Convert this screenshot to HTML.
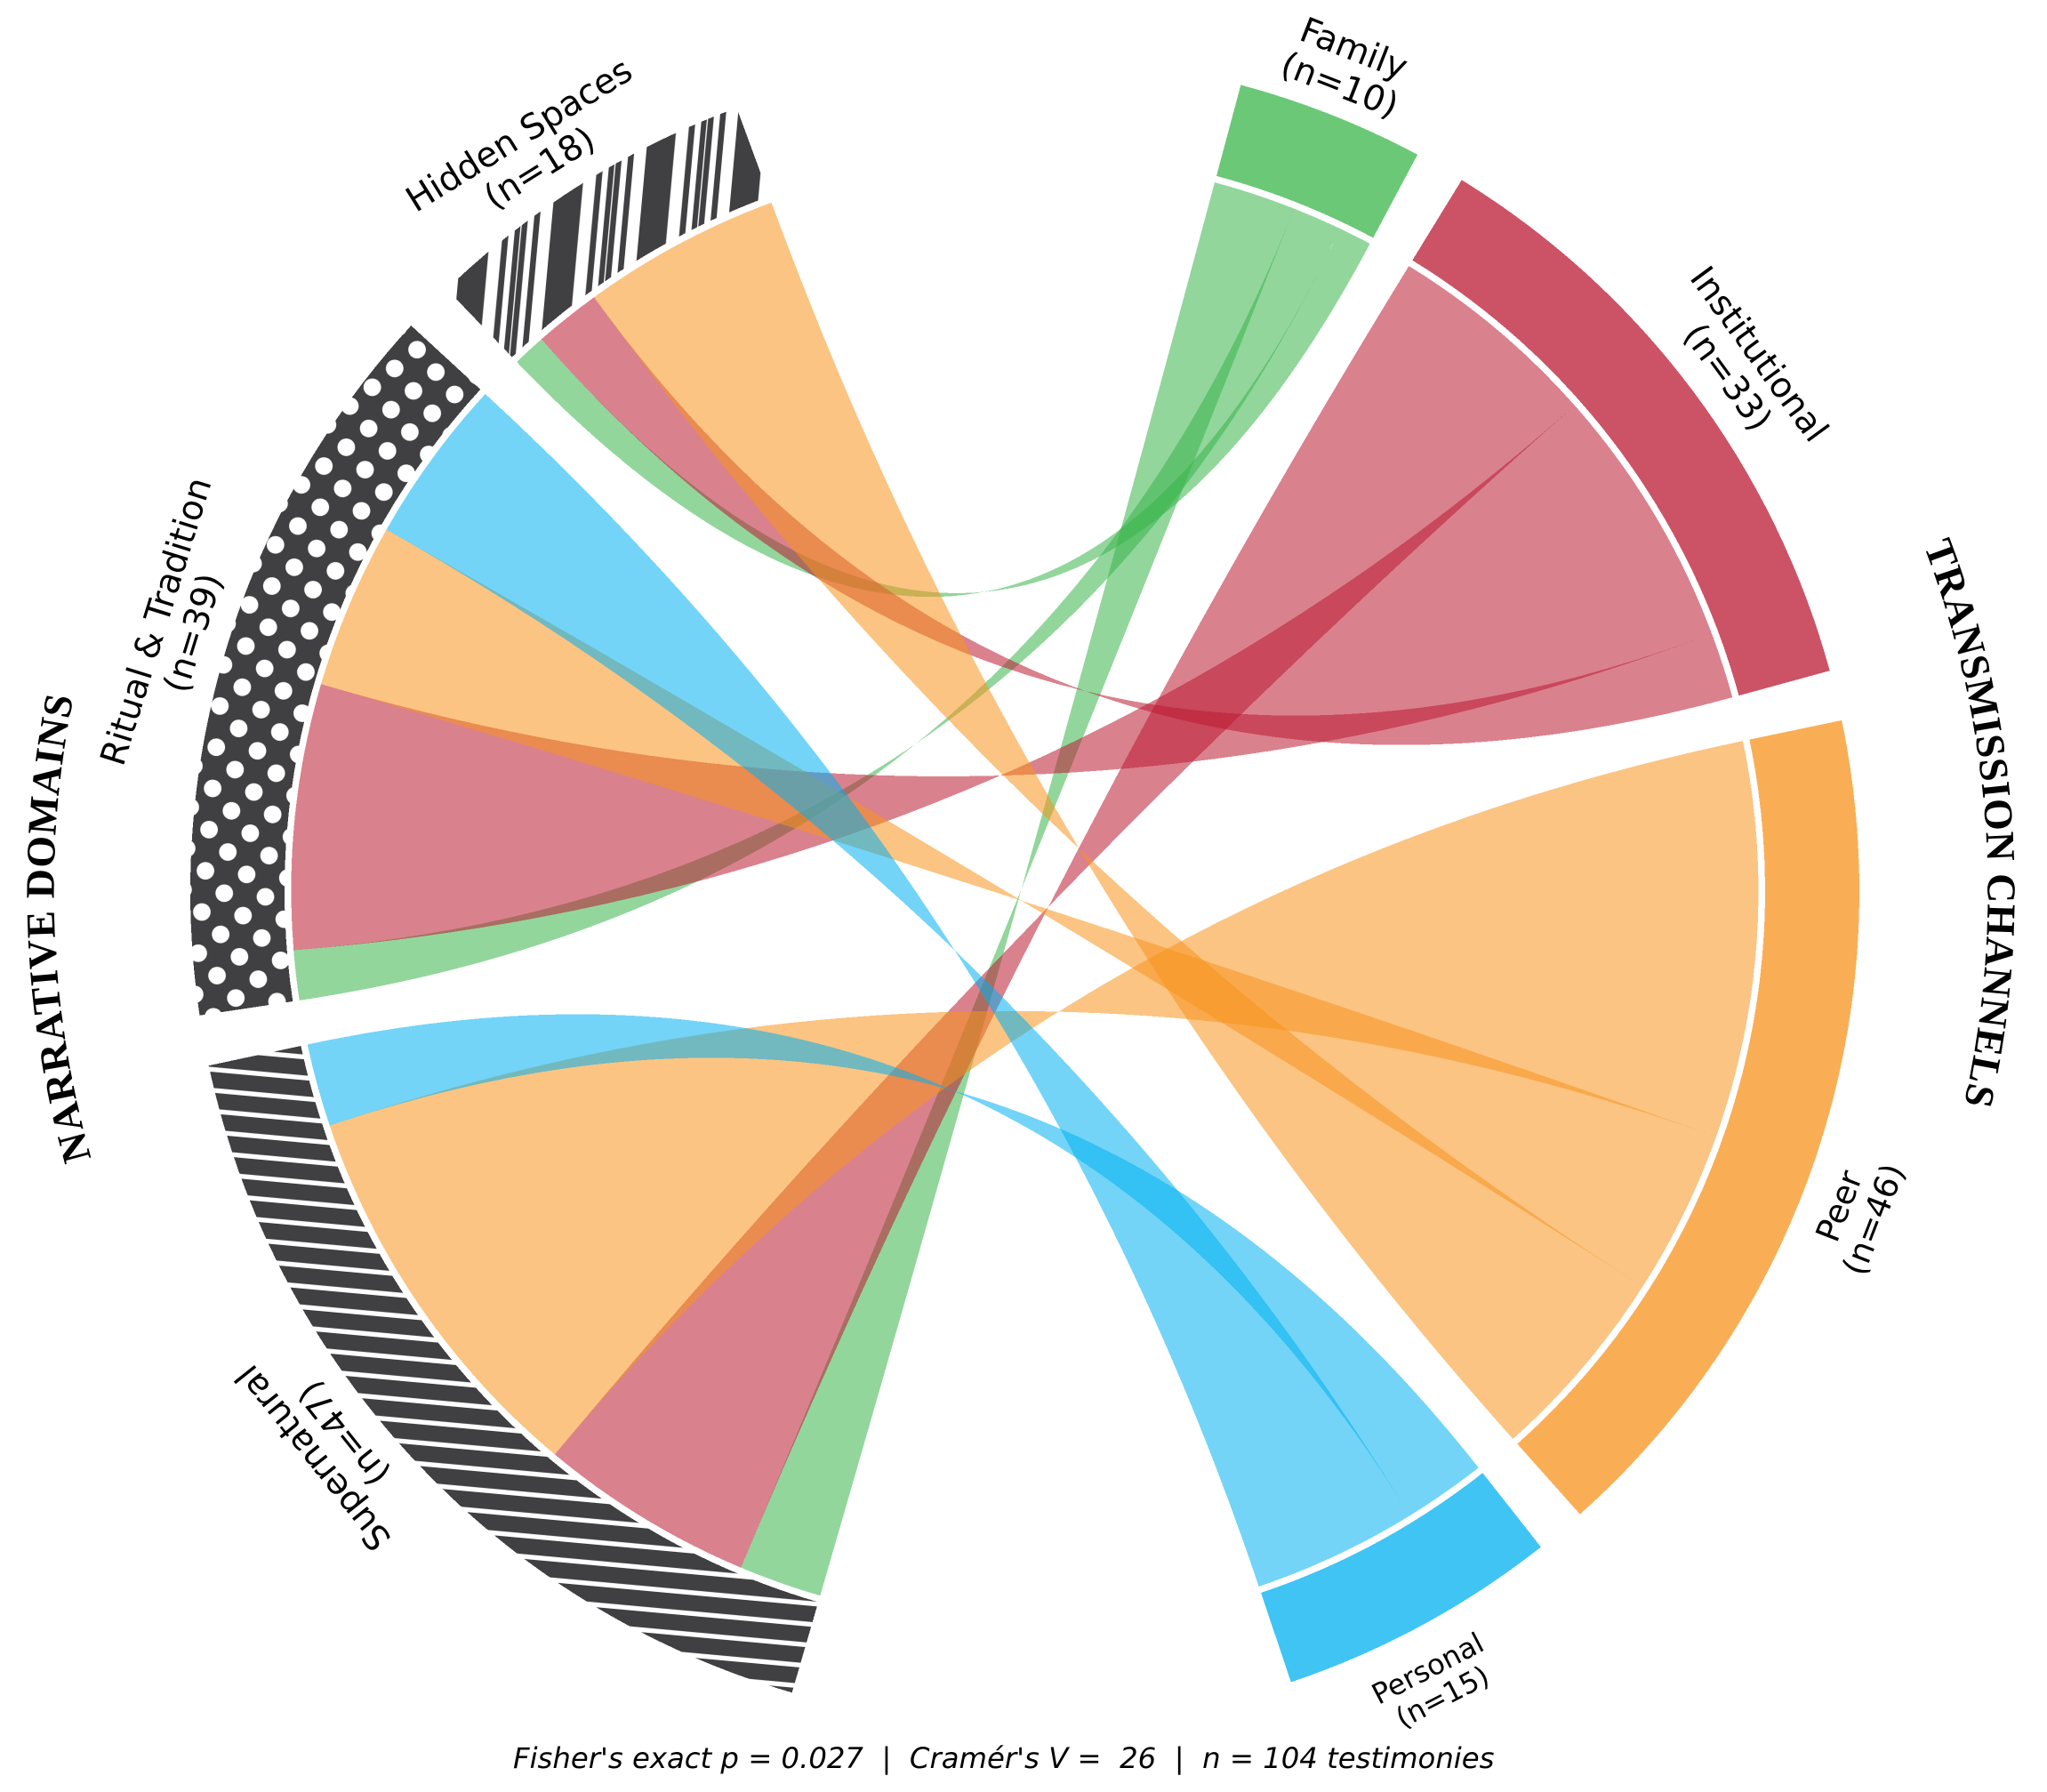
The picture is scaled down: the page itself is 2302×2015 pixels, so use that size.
<!DOCTYPE html>
<html lang="en">
<head>
<meta charset="utf-8">
<title>Chord diagram of narrative domains and transmission channels</title>
<style>
html,body{margin:0;padding:0;background:#fff;width:2302px;height:2015px;overflow:hidden}
svg{display:block}
text{fill:#000}
path{shape-rendering:crispEdges}
.seg{font-family:"DejaVu Sans","Liberation Sans",sans-serif}
.ttl{font-family:"Liberation Serif",serif;font-weight:bold;font-size:46px}
</style>
</head>
<body>
<svg id="chart" xmlns="http://www.w3.org/2000/svg" width="2302" height="2015" viewBox="0 0 2302 2015">
<defs>
<pattern id="hatch-stripes" patternUnits="userSpaceOnUse" width="200" height="23.35" patternTransform="translate(236.7,1205) rotate(5.2)">
<rect x="0" y="0" width="200" height="23.35" fill="#fff"/>
<rect x="0" y="0" width="200" height="18" fill="#404042"/>
</pattern>
<pattern id="hatch-dots" patternUnits="userSpaceOnUse" width="46.5" height="46.5" patternTransform="translate(260.3,911.7) rotate(5)">
<rect x="0" y="0" width="46.5" height="46.5" fill="#404042"/>
<circle cx="0" cy="0" r="9.9" fill="#fff"/>
<circle cx="46.5" cy="0" r="9.9" fill="#fff"/>
<circle cx="0" cy="46.5" r="9.9" fill="#fff"/>
<circle cx="46.5" cy="46.5" r="9.9" fill="#fff"/>
<circle cx="23.25" cy="23.25" r="9.9" fill="#fff"/>
</pattern>
<pattern id="hatch-bars" patternUnits="userSpaceOnUse" width="98.9" height="300" patternTransform="translate(617,286.7) rotate(5.2)">
<rect x="0" y="0" width="31.2" height="300" fill="#404042"/>
<rect x="45.2" y="0" width="6.7" height="300" fill="#404042"/>
<rect x="58.5" y="0" width="6" height="300" fill="#404042"/>
<rect x="65.8" y="0" width="6.3" height="300" fill="#404042"/>
<rect x="78.9" y="0" width="6.5" height="300" fill="#404042"/>
</pattern>
<path id="arc-right" d="M 1861.5 183.4 A 1083 1083 0 0 1 1971.1 1711" fill="none"/>
<path id="arc-left" d="M 410.6 1803.2 A 1092 1092 0 0 1 351.3 260.1" fill="none"/>
</defs>
<g id="blocks"></g>
<g id="ribbons"></g>
<g id="labels"></g>
<text class="ttl" letter-spacing="0.8"><textPath href="#arc-right" startOffset="50%" text-anchor="middle">TRANSMISSION CHANNELS</textPath></text>
<text class="ttl" letter-spacing="0.9"><textPath href="#arc-left" startOffset="50%" text-anchor="middle">NARRATIVE DOMAINS</textPath></text>
<text class="seg" x="577" y="1988" font-size="32.3" font-style="italic" xml:space="preserve">Fisher's exact p = 0.027  |  Cramér's V =  26  |  n = 104 testimonies</text>
</svg>
<script>
const channels = ['Family', 'Institutional', 'Peer', 'Personal'];
const domains = ['Supernatural', 'Ritual & Tradition', 'Hidden Spaces'];
const familyCounts = [5, 3, 2];
const institutionalCounts = [13, 16, 4];
const peerCounts = [24, 10, 12];
const personalCounts = [5, 10, 0];

const channelColors = ['57,181,74', '187,26,50', '247,147,30', '0,176,240'];
const domainFills = ['url(#hatch-stripes)', 'url(#hatch-dots)', 'url(#hatch-bars)'];
const channelLabelSizes = [39, 39, 37, 32];
const domainLabelSizes = [39, 39, 39];
const channelLabelShift = [-0.2, 0.7, 2.9, 1.0];
const domainLabelShift = [4.4, 0.2, -1.8];
const channelLabelTilt = [0, 0, 0, 0];
const domainLabelTilt = [0, 0, 2];
const channelLabelNudge = [-6, 0, 0, 0];
const domainLabelNudge = [0, 0, 0];

const counts = [familyCounts, institutionalCounts, peerCounts, personalCounts];
const NS = 'http://www.w3.org/2000/svg';
const CX = 1152.5, CY = 1002;
const R_OUT = 938.5, R_IN = 832.5, R_RIB = 825, R_LABEL = 1002;
const GAP = 3.5, RIGHT_START = 15.0, LEFT_START = 196.2, RIGHT_SPAN = 135.9, LEFT_SPAN = 136.6;

const channelTotals = counts.map(function (row) { return row.reduce(function (a, b) { return a + b; }, 0); });
const domainTotals = domains.map(function (_, j) { return counts.reduce(function (a, row) { return a + row[j]; }, 0); });
const grandTotal = channelTotals.reduce(function (a, b) { return a + b; }, 0);
const rightUnit = RIGHT_SPAN / grandTotal;
const leftUnit = LEFT_SPAN / grandTotal;

function pt(theta, r) {
  const t = theta * Math.PI / 180;
  return [CX + r * Math.sin(t), CY - r * Math.cos(t)];
}
function f(p) { return p[0].toFixed(2) + ' ' + p[1].toFixed(2); }
function arcTo(theta0, theta1, r, sweep) {
  const large = Math.abs(theta1 - theta0) > 180 ? 1 : 0;
  return 'A ' + r + ' ' + r + ' 0 ' + large + ' ' + sweep + ' ' + f(pt(theta1, r));
}
function blockPath(a, b) {
  return 'M ' + f(pt(a, R_OUT)) + ' ' + arcTo(a, b, R_OUT, 1) + ' L ' + f(pt(b, R_IN)) + ' ' + arcTo(b, a, R_IN, 0) + ' Z';
}
function ribbonPath(a1, a2, b1, b2) {
  const c = CX + ' ' + CY;
  return 'M ' + f(pt(a1, R_RIB)) + ' ' + arcTo(a1, a2, R_RIB, 1) +
    ' Q ' + c + ' ' + f(pt(b2, R_RIB)) + ' ' + arcTo(b2, b1, R_RIB, 0) +
    ' Q ' + c + ' ' + f(pt(a1, R_RIB)) + ' Z';
}
function slug(s) { return s.toLowerCase().replace(/[^a-z]+/g, '-'); }

function layout(totals, start, unit) {
  const spans = [];
  let t = start;
  totals.forEach(function (n) {
    spans.push([t, t + n * unit]);
    t += n * unit + GAP;
  });
  return spans;
}
const channelSpans = layout(channelTotals, RIGHT_START, rightUnit);
const domainSpans = layout(domainTotals, LEFT_START, leftUnit);

const blocksG = document.getElementById('blocks');
const ribbonsG = document.getElementById('ribbons');
const labelsG = document.getElementById('labels');

function addBlock(span, fill, opacity, name) {
  const el = document.createElementNS(NS, 'path');
  el.setAttribute('d', blockPath(span[0], span[1]));
  el.setAttribute('fill', fill);
  if (opacity < 1) el.setAttribute('fill-opacity', opacity);
  
  
  blocksG.appendChild(el);
}
function addLabel(title, n, span, size, shift, tilt, nudge, name) {
  const mid = (span[0] + span[1]) / 2 + shift;
  let rot = mid;
  if (mid > 90 && mid < 200) rot = mid - 180;
  if (mid > 270) rot = mid - 360;
  rot += tilt;
  const p = pt(mid, R_LABEL + nudge);
  const lh = size * 0.56;
  const g = document.createElementNS(NS, 'g');
  g.setAttribute('transform', 'translate(' + p[0].toFixed(2) + ',' + p[1].toFixed(2) + ') rotate(' + rot.toFixed(2) + ')');
  g.setAttribute('class', 'seg');
  g.setAttribute('font-size', size);
  g.setAttribute('text-anchor', 'middle');
  
  
  const t1 = document.createElementNS(NS, 'text');
  t1.setAttribute('y', (-lh + size * 0.36).toFixed(2));
  t1.textContent = title;
  
  
  g.appendChild(t1);
  const t2 = document.createElementNS(NS, 'text');
  t2.setAttribute('y', (lh + size * 0.36).toFixed(2));
  t2.textContent = '(n=' + n + ')';
  
  
  g.appendChild(t2);
  labelsG.appendChild(g);
}

channels.forEach(function (c, i) {
  addBlock(channelSpans[i], 'rgb(' + channelColors[i] + ')', 0.75, 'channel-block-' + slug(c));
  addLabel(c, channelTotals[i], channelSpans[i], channelLabelSizes[i], channelLabelShift[i], channelLabelTilt[i], channelLabelNudge[i], 'channel-label-' + slug(c));
});
domains.forEach(function (d, j) {
  addBlock(domainSpans[j], domainFills[j], 1, 'domain-block-' + slug(d));
  addLabel(d, domainTotals[j], domainSpans[j], domainLabelSizes[j], domainLabelShift[j], domainLabelTilt[j], domainLabelNudge[j], 'domain-label-' + slug(d));
});

const domainCursor = domainSpans.map(function (s) { return s[0]; });
channels.forEach(function (c, i) {
  let cursor = channelSpans[i][0];
  domains.forEach(function (d, j) {
    const v = counts[i][j];
    if (v <= 0) return;
    const a1 = cursor, a2 = cursor + v * rightUnit;
    const b1 = domainCursor[j], b2 = b1 + v * leftUnit;
    cursor = a2;
    domainCursor[j] = b2;
    const ribbon = document.createElementNS(NS, 'path');
    ribbon.setAttribute('d', ribbonPath(a1, a2, b1, b2));
    ribbon.setAttribute('fill', 'rgb(' + channelColors[i] + ')');
    ribbon.setAttribute('fill-opacity', '0.55');
    
    
    ribbonsG.appendChild(ribbon);
  });
});
</script>
</body>
</html>
